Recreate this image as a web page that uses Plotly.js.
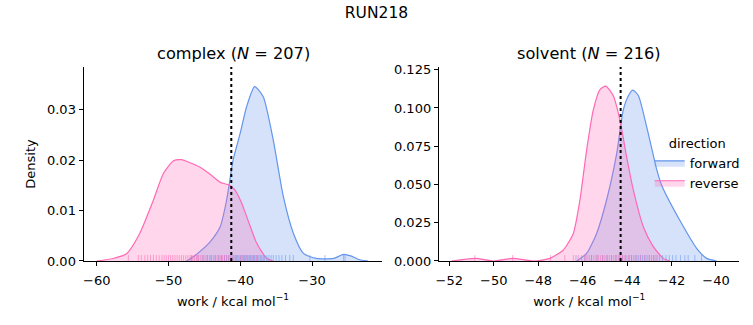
<!DOCTYPE html>
<html>
<head>
<meta charset="utf-8">
<script src="https://cdn.plot.ly/plotly-3.0.1.min.js"></script>
<style>html,body{margin:0;padding:0;background:#fff}#chart{width:753px;height:325px}</style>
</head>
<body>
<div id="chart"></div>
<script>
// ---- complex panel: KDE curves (work, density) ----
const complexFwdX = [-47.5,-46.5,-45.6,-44.2,-42.8,-41.9,-41.0,-40.0,-39.1,-38.0,-36.8,-35.4,-34.0,-32.6,-31.2,-29.4,-27.0,-25.6,-24.6,-23.5,-22.2];
const complexFwdY = [0,0.0009,0.0019,0.0038,0.0068,0.0121,0.0200,0.0254,0.0307,0.0346,0.0326,0.0240,0.0128,0.0055,0.0015,0.0005,0.0005,0.0013,0.0010,0.0003,0];
const complexRevX = [-60.0,-57.7,-55.8,-54.0,-52.1,-50.7,-49.3,-48.2,-47.0,-45.6,-44.2,-42.8,-41.6,-40.8,-39.9,-39.1,-37.7,-36.3,-35.4];
const complexRevY = [0,0.0005,0.0015,0.0055,0.0121,0.0174,0.0199,0.0201,0.0195,0.0186,0.0172,0.0156,0.0151,0.0142,0.0118,0.0088,0.0035,0.0005,0];
// ---- solvent panel: KDE curves ----
const solventFwdX = [-46.27,-45.82,-45.37,-44.92,-44.47,-44.17,-43.94,-43.75,-43.49,-43.12,-42.67,-42.45,-41.55,-40.87,-40.42,-39.97];
const solventFwdY = [0,0.005,0.018,0.040,0.070,0.0987,0.108,0.1117,0.108,0.0878,0.060,0.0497,0.0246,0.0083,0.0017,0];
const solventRevX = [-51.9,-50.84,-50.0,-49.15,-48.2,-47.47,-46.87,-46.42,-46.12,-45.82,-45.52,-45.22,-44.96,-44.62,-44.32,-44.02,-43.72,-43.27,-42.82,-42.37,-42.07];
const solventRevY = [0,0.0017,0,0.0017,0,0.0017,0.0072,0.018,0.040,0.0725,0.0987,0.112,0.1143,0.108,0.092,0.068,0.0464,0.0224,0.0094,0.0017,0];
// ---- rug samples (approximate) ----
const complexFwdRug = [-46.8,-45.9,-45.2,-44.6,-44.1,-43.5,-43.0,-42.6,-42.2,-41.9,-41.6,-41.3,-41.0,-40.7,-40.5,-40.2,-40.0,-39.8,-39.6,-39.4,-39.2,-39.0,-38.8,-38.6,-38.4,-38.2,-38.0,-37.8,-37.6,-37.4,-37.2,-37.0,-36.8,-36.6,-36.3,-36.0,-35.7,-35.4,-35.0,-34.6,-34.2,-33.7,-33.1,-32.6,-30.3,-28.2,-25.6,-25.4];
const complexRevRug = [-55.6,-54.2,-53.8,-53.3,-52.9,-52.5,-52.1,-51.7,-51.3,-50.9,-50.6,-50.3,-50.0,-49.7,-49.4,-49.1,-48.8,-48.5,-48.2,-47.9,-47.6,-47.3,-47.0,-46.7,-46.4,-46.1,-45.8,-45.5,-45.2,-44.9,-44.6,-44.3,-44.0,-43.7,-43.4,-43.1,-42.8,-42.5,-42.2,-41.9,-41.6,-41.3,-41.0,-40.7,-40.4,-40.0,-39.6,-39.2,-38.7,-38.2,-37.7];
const solventFwdRug = [-46.3,-45.9,-45.6,-45.35,-45.1,-44.9,-44.7,-44.5,-44.35,-44.2,-44.05,-43.9,-43.8,-43.7,-43.6,-43.5,-43.4,-43.3,-43.2,-43.1,-43.0,-42.9,-42.8,-42.7,-42.55,-42.4,-42.25,-42.1,-41.95,-41.8,-41.6,-41.4,-41.25,-40.95,-40.65];
const solventRevRug = [-50.85,-49.15,-47.45,-46.8,-46.42,-46.2,-46.05,-45.9,-45.8,-45.7,-45.6,-45.5,-45.4,-45.3,-45.2,-45.1,-45.0,-44.9,-44.8,-44.7,-44.6,-44.5,-44.4,-44.3,-44.2,-44.1,-43.95,-43.8,-43.6,-43.4,-43.2,-43.0,-42.8,-42.65];
// ---- dotted reference lines ----
const refLineX = [-41.25, -44.29];
const panelTitles = ['complex (<i>N</i> = 207)', 'solvent (<i>N</i> = 216)'];
const seriesNames = ['forward', 'reverse'];

const BLUE = '#6495ED', PINK = '#FF69B4';
const BLUE_F = 'rgba(100,149,237,0.27)', PINK_F = 'rgba(255,105,180,0.27)';
const FONT = 'DejaVu Sans, sans-serif';

function kde(x, y, xa, ya, color, fill, name, show) {
  return {x, y, xaxis: xa, yaxis: ya, type: 'scatter', mode: 'lines', name,
    legendgroup: name, showlegend: show, line: {color, width: 1.2, shape: 'spline', smoothing: 0.6},
    fill: 'tozeroy', fillcolor: fill, hoverinfo: 'skip'};
}
function rug(vals, xa, ya, color) {
  return {x: vals, y: vals.map(() => 0.0125), xaxis: xa, yaxis: ya, type: 'scatter', mode: 'markers',
    showlegend: false, hoverinfo: 'skip',
    marker: {symbol: 'line-ns', size: 5, line: {width: 1, color: color}, opacity: 0.55}};
}
const data = [
  kde(complexFwdX, complexFwdY, 'x', 'y', BLUE, BLUE_F, seriesNames[0], true),
  kde(complexRevX, complexRevY, 'x', 'y', PINK, PINK_F, seriesNames[1], true),
  kde(solventFwdX, solventFwdY, 'x2', 'y2', BLUE, BLUE_F, seriesNames[0], false),
  kde(solventRevX, solventRevY, 'x2', 'y2', PINK, PINK_F, seriesNames[1], false),
  rug(complexFwdRug, 'x', 'y3', BLUE),
  rug(complexRevRug, 'x', 'y3', PINK),
  rug(solventFwdRug, 'x2', 'y4', BLUE),
  rug(solventRevRug, 'x2', 'y4', PINK),
  {x: [refLineX[0], refLineX[0]], y: [0, 1], xaxis: 'x', yaxis: 'y3', type: 'scatter', mode: 'lines',
   showlegend: false, hoverinfo: 'skip', line: {color: '#000', width: 2, dash: 'dot'}},
  {x: [refLineX[1], refLineX[1]], y: [0, 1], xaxis: 'x2', yaxis: 'y4', type: 'scatter', mode: 'lines',
   showlegend: false, hoverinfo: 'skip', line: {color: '#000', width: 2, dash: 'dot'}}
];

const axBase = {showgrid: false, zeroline: false, showline: true, linecolor: '#000', linewidth: 1,
  ticks: 'outside', ticklen: 4.5, tickwidth: 1, tickcolor: '#000', tickfont: {family: FONT, size: 13, color: '#000'}};
const xTitle = {text: 'work / kcal mol<sup>−1</sup>', font: {family: FONT, size: 13, color: '#000'}, standoff: 9};

const layout = {
  width: 753, height: 325, margin: {l: 0, r: 0, t: 0, b: 0},
  paper_bgcolor: '#fff', plot_bgcolor: 'rgba(0,0,0,0)',
  font: {family: FONT, color: '#000'},
  title: {text: 'RUN218', x: 0.5, xanchor: 'center', y: 0.96, yanchor: 'middle', font: {family: FONT, size: 15.5, color: '#000'}},
  xaxis: Object.assign({}, axBase, {domain: [0.1116, 0.5073], range: [-61.77, -20.25], tickvals: [-60, -50, -40, -30], title: xTitle, anchor: 'y', ticklabelstandoff: 3}),
  yaxis: Object.assign({}, axBase, {domain: [0.197, 0.794], range: [0, 0.0385], tickvals: [0, 0.01, 0.02, 0.03], tickformat: '.2f',
    title: {text: 'Density', font: {family: FONT, size: 13, color: '#000'}, standoff: 8}, anchor: 'x'}),
  xaxis2: Object.assign({}, axBase, {domain: [0.5834, 0.9818], range: [-52.45, -38.95], tickvals: [-52, -50, -48, -46, -44, -42, -40], title: xTitle, anchor: 'y2', ticklabelstandoff: 3}),
  yaxis2: Object.assign({}, axBase, {domain: [0.197, 0.794], range: [0, 0.1268], tickvals: [0, 0.025, 0.05, 0.075, 0.1, 0.125], tickformat: '.3f', anchor: 'x2'}),
  yaxis3: {overlaying: 'y', anchor: 'x', range: [0, 1], visible: false, fixedrange: true},
  yaxis4: {overlaying: 'y2', anchor: 'x2', range: [0, 1], visible: false, fixedrange: true},
  annotations: [
    {text: panelTitles[0], xref: 'paper', yref: 'paper', x: (0.1116 + 0.5073) / 2, y: 1 - 54 / 325, xanchor: 'center', yanchor: 'middle', showarrow: false, font: {family: FONT, size: 16.2, color: '#000'}},
    {text: panelTitles[1], xref: 'paper', yref: 'paper', x: (0.5834 + 0.9818) / 2, y: 1 - 54 / 325, xanchor: 'center', yanchor: 'middle', showarrow: false, font: {family: FONT, size: 16.2, color: '#000'}}
  ],
  legend: {x: 0.989, xanchor: 'right', y: 1 - 131 / 325, yanchor: 'top', bgcolor: 'rgba(0,0,0,0)',
    title: {text: 'direction', side: 'top center', font: {family: FONT, size: 13, color: '#000'}},
    font: {family: FONT, size: 13, color: '#000'}, itemwidth: 30, tracegroupgap: 0},
  showlegend: true
};
Plotly.newPlot('chart', data, layout, {staticPlot: true, displayModeBar: false});
</script>
</body>
</html>
